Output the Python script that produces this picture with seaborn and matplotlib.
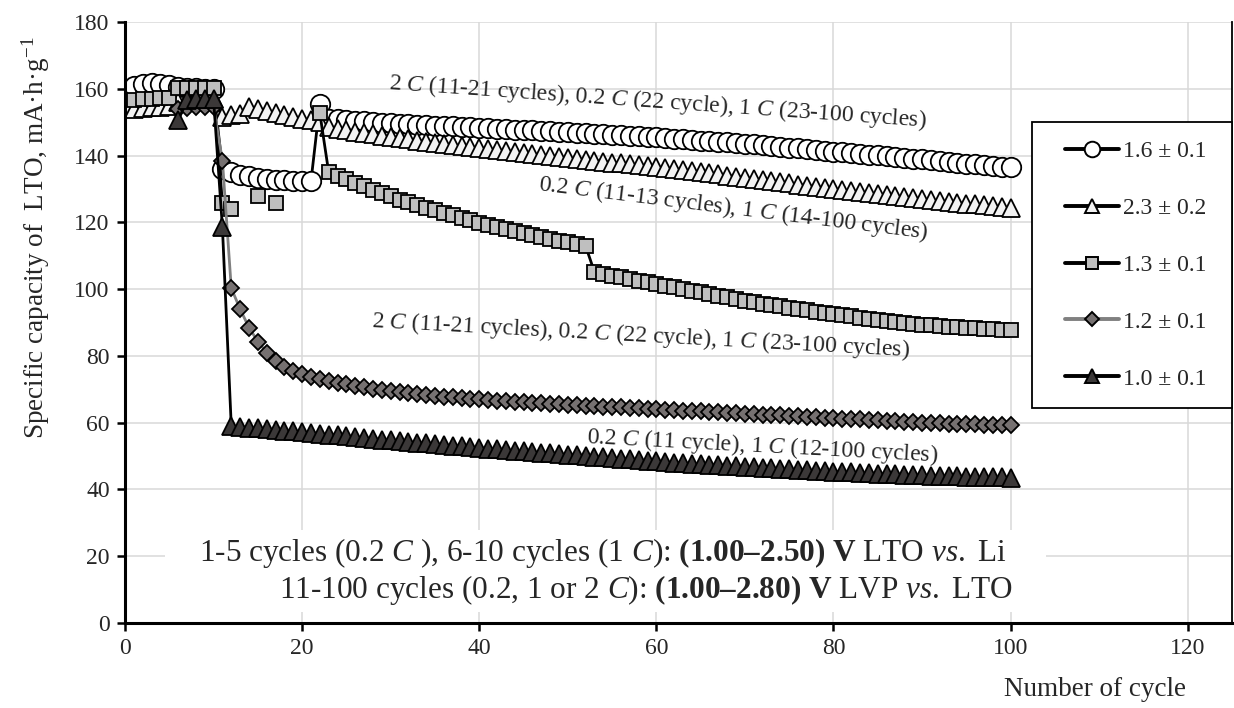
import numpy as np
import pandas as pd
import matplotlib
matplotlib.use("Agg")
import matplotlib.pyplot as plt
from matplotlib.lines import Line2D
from matplotlib.patches import Rectangle
import seaborn as sns

nan = np.nan
cycles = list(range(1, 101))

cap_16 = [160.8, 161.3, 161.6, 161.4, 161.0,
          160.5, 160.3, 160.2, 160.0, 159.8,
          136.0, 135.0, 134.3, 133.8, 133.4, 133.1, 132.8, 132.6, 132.5, 132.4, 132.3,
          155.5,
          151.0, 150.8, 150.6, 150.4, 150.2, 150.0, 149.8, 149.7,
          149.5, 149.4, 149.3, 149.1, 149.0, 148.9, 148.8, 148.6, 148.5, 148.3,
          148.2, 148.1, 148.0, 147.8, 147.7, 147.6, 147.5, 147.3, 147.2, 147.0,
          146.9, 146.7, 146.6, 146.4, 146.3, 146.1, 146.0, 145.8, 145.7, 145.5,
          145.3, 145.1, 144.9, 144.7, 144.5, 144.4, 144.2, 144.0, 143.8, 143.6,
          143.4, 143.1, 142.9, 142.7, 142.4, 142.2, 142.0, 141.7, 141.5, 141.2,
          141.0, 140.8, 140.5, 140.3, 140.1, 139.8, 139.6, 139.4, 139.1, 138.9,
          138.6, 138.4, 138.1, 137.9, 137.6, 137.4, 137.2, 137.0, 136.7, 136.5]

cap_23 = [154.0, 154.3, 154.5, 154.6, 154.8,
          156.0, 156.5, 156.8, 157.0, 157.0,
          151.5, 152.0, 152.3, 154.5, 154.0, 153.4, 152.8, 152.2, 151.6, 151.0, 150.5, 150.0,
          148.6, 148.1, 147.7, 147.2, 146.8, 146.4, 146.0, 145.6,
          145.2, 144.9, 144.5, 144.2, 143.8, 143.5, 143.2, 142.9, 142.6, 142.3,
          142.0, 141.7, 141.4, 141.1, 140.8, 140.5, 140.2, 139.9, 139.6, 139.3,
          139.0, 138.8, 138.5, 138.2, 137.9, 137.7, 137.4, 137.1, 136.9, 136.6,
          136.3, 136.0, 135.7, 135.4, 135.0, 134.7, 134.4, 134.0, 133.7, 133.4,
          133.0, 132.7, 132.4, 132.0, 131.7, 131.3, 131.0, 130.7, 130.3, 130.0,
          129.7, 129.4, 129.1, 128.8, 128.5, 128.2, 127.9, 127.6, 127.3, 127.0,
          126.7, 126.4, 126.2, 125.9, 125.6, 125.4, 125.1, 124.9, 124.6, 124.3]

cap_13 = [156.5, 156.8, 157.0, 157.2, 157.3,
          160.2, 160.2, 160.3, 160.2, 160.1,
          125.7, 124.0, nan, nan, 127.8, nan, 125.8, nan, nan, nan, nan,
          152.7,
          135.0, 134.0, 133.0, 131.9, 130.9, 129.8, 128.8, 127.8,
          126.8, 126.0, 125.2, 124.4, 123.6, 122.8, 122.1, 121.4, 120.6, 119.9,
          119.3, 118.7, 118.1, 117.5, 116.9, 116.3, 115.7, 115.1, 114.5, 114.0,
          113.5, 113.0,
          105.2, 104.6, 104.0, 103.5, 103.0, 102.5, 102.0, 101.5,
          101.0, 100.5, 100.0, 99.5, 99.0, 98.5, 98.0, 97.5, 97.0, 96.5,
          96.1, 95.6, 95.2, 94.8, 94.4, 94.0, 93.6, 93.2, 92.8, 92.5,
          92.1, 91.8, 91.4, 91.1, 90.8, 90.5, 90.2, 89.9, 89.7, 89.4,
          89.2, 89.0, 88.8, 88.6, 88.4, 88.3, 88.1, 88.0, 87.9, 87.8]

cap_12 = [nan, nan, nan, nan, nan,
          154.0, 154.3, 154.5, 154.6, 154.6,
          138.5, 100.3, 94.0, 88.5, 84.3, 81.0, 78.5, 76.8, 75.6, 74.6, 73.8,
          73.1, 72.5, 72.0, 71.5, 71.0, 70.6, 70.2, 69.8, 69.5,
          69.2, 68.9, 68.6, 68.3, 68.0, 67.8, 67.6, 67.4, 67.2, 67.0,
          66.8, 66.6, 66.4, 66.3, 66.1, 66.0, 65.8, 65.7, 65.5, 65.4,
          65.2, 65.1, 65.0, 64.8, 64.7, 64.6, 64.4, 64.3, 64.2, 64.0,
          63.9, 63.8, 63.6, 63.5, 63.4, 63.2, 63.1, 63.0, 62.8, 62.7,
          62.6, 62.4, 62.3, 62.2, 62.0, 61.9, 61.8, 61.6, 61.5, 61.4,
          61.2, 61.1, 61.0, 60.8, 60.7, 60.6, 60.4, 60.3, 60.2, 60.0,
          59.9, 59.8, 59.7, 59.6, 59.5, 59.5, 59.4, 59.4, 59.3, 59.3]

cap_10 = [nan, nan, nan, nan, nan,
          150.5, 156.5, 157.0, 157.0, 156.8,
          118.5, 59.0, 58.8, 58.5, 58.3, 58.0, 57.8, 57.6, 57.4, 57.2,
          56.9, 56.7, 56.4, 56.2, 55.9, 55.7, 55.4, 55.2, 54.9, 54.7,
          54.5, 54.2, 54.0, 53.8, 53.5, 53.3, 53.1, 52.9, 52.7, 52.5,
          52.2, 52.0, 51.8, 51.6, 51.4, 51.2, 51.0, 50.8, 50.6, 50.4,
          50.2, 50.0, 49.8, 49.6, 49.4, 49.2, 49.0, 48.8, 48.6, 48.4,
          48.2, 48.0, 47.9, 47.7, 47.5, 47.4, 47.2, 47.0, 46.9, 46.7,
          46.6, 46.4, 46.3, 46.1, 46.0, 45.9, 45.7, 45.6, 45.4, 45.3,
          45.2, 45.1, 44.9, 44.8, 44.7, 44.6, 44.5, 44.4, 44.3, 44.2,
          44.1, 44.0, 43.9, 43.9, 43.8, 43.7, 43.7, 43.6, 43.6, 43.5]

labels = ["1.6 ± 0.1", "2.3 ± 0.2", "1.3 ± 0.1", "1.2 ± 0.1", "1.0 ± 0.1"]
x_ticks = [0, 20, 40, 60, 80, 100, 120]
y_ticks = [0, 20, 40, 60, 80, 100, 120, 140, 160, 180]

sns.set_style("whitegrid")
plt.rcParams["font.family"] = ["Liberation Serif", "DejaVu Serif"]
plt.rcParams["mathtext.fontset"] = "custom"
plt.rcParams["mathtext.rm"] = "Liberation Serif"
plt.rcParams["mathtext.it"] = "Liberation Serif:italic"
plt.rcParams["mathtext.bf"] = "Liberation Serif:bold"

fig = plt.figure(figsize=(12.34, 7.08), dpi=100)
ax = fig.add_axes([125 / 1234, 85 / 708, 1107 / 1234, 601 / 708])

styles = [
    dict(marker="o", markersize=14, markerfacecolor="white", color="black"),
    dict(marker="^", markersize=13, markerfacecolor="#f2f2f2", color="black"),
    dict(marker="s", markersize=10.5, markerfacecolor="#bfbfbf", color="black"),
    dict(marker="D", markersize=8.5, markerfacecolor="#767171", color="#808080"),
    dict(marker="^", markersize=13, markerfacecolor="#3b3838", color="black"),
]
series = [cap_16, cap_23, cap_13, cap_12, cap_10]

handles = []
for vals, st, lab in zip(series, styles, labels):
    v = np.array(vals, dtype=float)
    seg = np.cumsum(np.isnan(v))
    df = pd.DataFrame({"cycle": cycles, "cap": v, "seg": seg}).dropna()
    sns.lineplot(data=df, x="cycle", y="cap", units="seg", estimator=None,
                 sort=False, ax=ax, legend=False,
                 color=st["color"], linewidth=2.0,
                 marker=st["marker"], markersize=st["markersize"],
                 markerfacecolor=st["markerfacecolor"],
                 markeredgecolor="black", markeredgewidth=1.3)
    handles.append(Line2D([], [], color=st["color"], linewidth=2.8,
                          marker=st["marker"], markersize=st["markersize"] * 0.8,
                          markerfacecolor=st["markerfacecolor"],
                          markeredgecolor="black", markeredgewidth=1.4))

ax.set_xlim(0, 125)
ax.set_ylim(0, 180)
ax.set_xticks(x_ticks)
ax.set_yticks(y_ticks)
ax.grid(True, color="#d9d9d9", linewidth=1.1)
ax.set_axisbelow(True)
for side in ["left", "bottom"]:
    ax.spines[side].set_color("black")
    ax.spines[side].set_linewidth(2.2)
ax.spines["right"].set_color("black")
ax.spines["right"].set_linewidth(1.3)
ax.spines["top"].set_visible(False)
ax.tick_params(axis="both", which="major", direction="out", length=6, width=1.8,
               color="black", labelsize=17, pad=5, left=True, bottom=True)

ax.set_xlabel("Number of cycle", fontsize=19.5)
ax.xaxis.set_label_coords((1095 - 125) / 1107, (623 - 690) / 601)
ax.xaxis.label.set_va("center")
ax.set_ylabel("Specific capacity of  LTO, mA·h·g$^{-1}$", fontsize=19.5)
ax.yaxis.set_label_coords((36 - 125) / 1107, (623 - 238) / 601)
ax.yaxis.label.set_va("center")

# white box behind the bottom note
ax.add_patch(Rectangle((4.5, 3.3), 99.5, 24.5, facecolor="white", edgecolor="none", zorder=1.5))

note_kw = dict(fontsize=22.5, ha="center", va="center", zorder=4)
ax.text(54.0, 20.9, r"1-5 cycles (0.2 $\mathit{C}$ ), 6-10 cycles (1 $\mathit{C}$): "
        r"$\mathbf{(1.00–2.50)\ V}$ LTO $\mathit{vs.}$ Li", **note_kw)
ax.text(58.8, 9.9, r"11-100 cycles (0.2, 1 or 2 $\mathit{C}$): "
        r"$\mathbf{(1.00–2.80)\ V}$ LVP $\mathit{vs.}$ LTO", **note_kw)

ann_kw = dict(fontsize=17, ha="center", va="center", rotation_mode="anchor", zorder=4)
ax.text(60.2, 156.0, r"2 $\mathit{C}$ (11-21 cycles), 0.2 $\mathit{C}$ (22 cycle), "
        r"1 $\mathit{C}$ (23-100 cycles)", rotation=-4.0, **ann_kw)
ax.text(68.7, 124.3, r"0.2 $\mathit{C}$ (11-13 cycles), 1 $\mathit{C}$ (14-100 cycles)",
        rotation=-7.1, **ann_kw)
ax.text(58.2, 86.0, r"2 $\mathit{C}$ (11-21 cycles), 0.2 $\mathit{C}$ (22 cycle), "
        r"1 $\mathit{C}$ (23-100 cycles)", rotation=-3.1, **ann_kw)
ax.text(72.0, 52.9, r"0.2 $\mathit{C}$ (11 cycle), 1 $\mathit{C}$ (12-100 cycles)",
        rotation=-3.0, **ann_kw)

# legend frame (drawn as a box) and the legend entries
ax.add_patch(Rectangle(((1032 - 125) / 1107, (623 - 408) / 601), 200 / 1107, 286 / 601,
                       transform=ax.transAxes, facecolor="white", edgecolor="black",
                       linewidth=1.3, zorder=4.5, clip_on=False))
leg = ax.legend(handles, labels, loc="center left",
                bbox_to_anchor=((1065 - 125) / 1107, (623 - 265) / 601),
                bbox_transform=ax.transAxes, fontsize=17, frameon=False,
                borderaxespad=0, borderpad=0, labelspacing=1.5,
                handlelength=2.3, handletextpad=0.17)
leg.set_zorder(5)

fig.savefig("out.png", dpi=100)
